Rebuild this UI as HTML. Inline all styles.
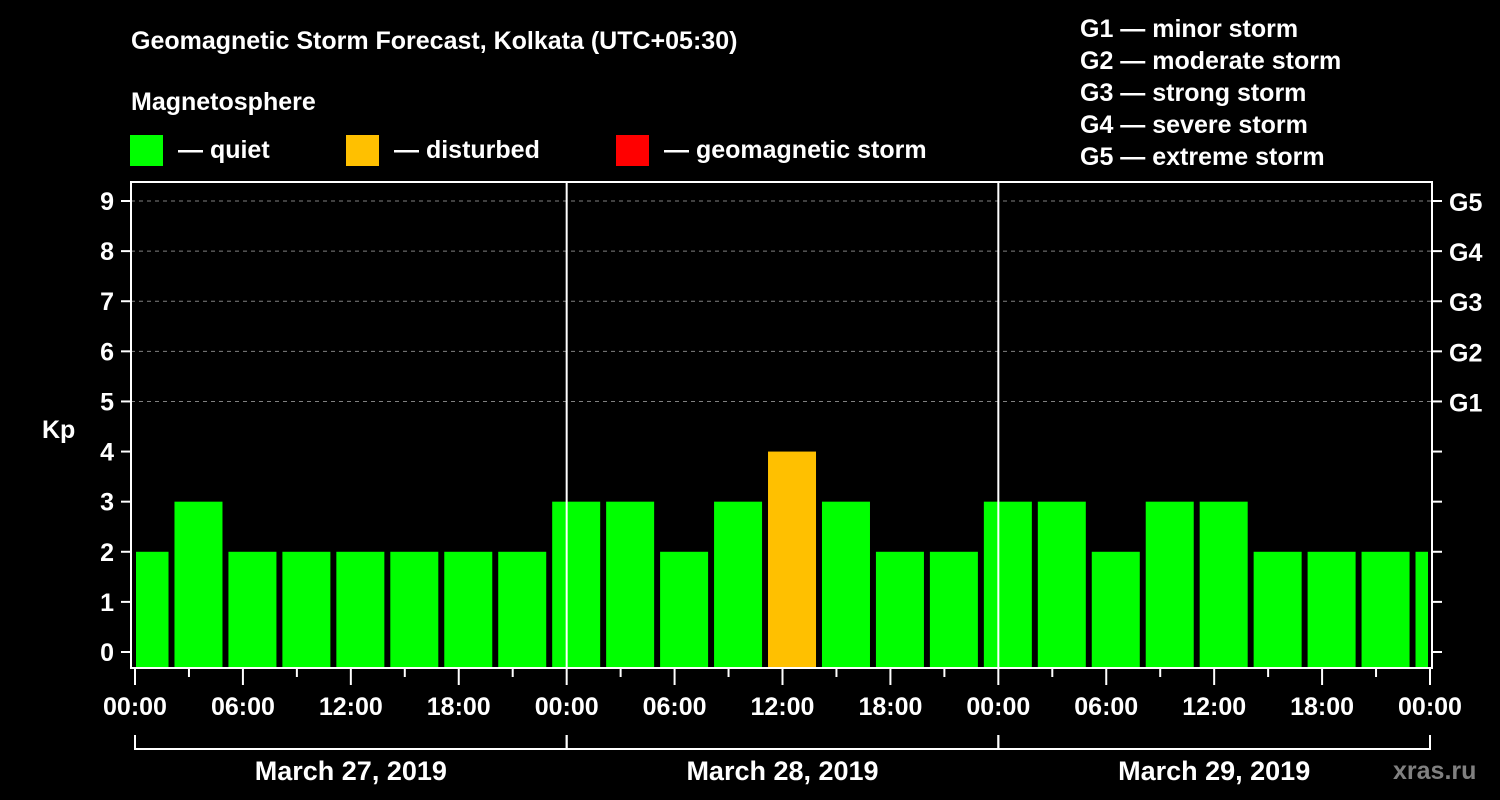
<!DOCTYPE html>
<html><head><meta charset="utf-8"><style>
html,body{margin:0;padding:0;background:#000;width:1500px;height:800px;overflow:hidden}
svg{display:block;font-family:"Liberation Sans",sans-serif;font-weight:bold}
</style></head><body>
<svg id="chart" width="1500" height="800" viewBox="0 0 1500 800">
<rect width="1500" height="800" fill="#000"/>
<text x="131" y="49" fill="#fff" font-size="25">Geomagnetic Storm Forecast, Kolkata (UTC+05:30)</text>
<text x="131" y="110" fill="#fff" font-size="25">Magnetosphere</text>
<g><rect x="130" y="135" width="33" height="31" fill="#00ff00"/><text x="178" y="158" fill="#fff" font-size="25">— quiet</text></g>
<g><rect x="346" y="135" width="33" height="31" fill="#ffc000"/><text x="394" y="158" fill="#fff" font-size="25">— disturbed</text></g>
<g><rect x="616" y="135" width="33" height="31" fill="#ff0000"/><text x="664" y="158" fill="#fff" font-size="25">— geomagnetic storm</text></g>
<g fill="#fff" font-size="25">
<text x="1080" y="37">G1 — minor storm</text>
<text x="1080" y="69">G2 — moderate storm</text>
<text x="1080" y="101">G3 — strong storm</text>
<text x="1080" y="133">G4 — severe storm</text>
<text x="1080" y="165">G5 — extreme storm</text>
</g>
<text x="42" y="438" fill="#fff" font-size="25">Kp</text>
<text x="1393" y="779" fill="#808080" font-size="25">xras.ru</text>
<g id="grid"></g><g id="bars"></g><g id="axes"></g>
</svg>
<script>
const kpValues=[2,3,2,2,2,2,2,2,3,3,2,3,4,3,2,2,3,3,2,3,3,2,2,2,2];
const yTicks=[0,1,2,3,4,5,6,7,8,9];
const gLabels=["G1","G2","G3","G4","G5"];
const xTickLabels=["00:00","06:00","12:00","18:00","00:00","06:00","12:00","18:00","00:00","06:00","12:00","18:00","00:00"];
const dayLabels=["March 27, 2019","March 28, 2019","March 29, 2019"];
const NS="http://www.w3.org/2000/svg";
const X0=135,X1=1430,hourPx=(X1-X0)/72,L=131,R=1432,T=182,B=668;
const yS=v=>652-v*50.11;
const xS=h=>X0+h*hourPx;
function mk(p,tag,a){const e=document.createElementNS(NS,tag);for(const k in a)e.setAttribute(k,a[k]);p.appendChild(e);return e;}
const grid=document.getElementById('grid'),bars=document.getElementById('bars'),axes=document.getElementById('axes');
[5,6,7,8,9].forEach(v=>{const l=mk(grid,'line',{x1:L,x2:R,y1:yS(v),y2:yS(v),stroke:'#808080','stroke-width':1,'stroke-dasharray':'4,4'});

});
kpValues.forEach((v,i)=>{
 let x=xS(-0.833+3*i)+0.5, w=48;
 let xl=Math.max(x,L+5), xr=Math.min(x+w,R-4);
 const c=v>=5?'#ff0000':(v>=4?'#ffc000':'#00ff00');
 const r=mk(bars,'rect',{x:xl,y:yS(v),width:xr-xl,height:B-yS(v),fill:c});
 
 
});
[1,2].forEach(d=>{const l=mk(axes,'line',{x1:xS(24*d),x2:xS(24*d),y1:T,y2:B,stroke:'#fff','stroke-width':2});

});
const fr=mk(axes,'rect',{x:L,y:T,width:R-L,height:B-T,fill:'none',stroke:'#fff','stroke-width':2});


yTicks.forEach(v=>{
 mk(axes,'line',{x1:121,x2:L,y1:yS(v),y2:yS(v),stroke:'#fff','stroke-width':2});
 mk(axes,'line',{x1:R,x2:1442,y1:yS(v),y2:yS(v),stroke:'#fff','stroke-width':2});
 const t=mk(axes,'text',{x:114,y:yS(v)+9,fill:'#fff','font-size':25,'text-anchor':'end'});t.textContent=v;
 
 
});
gLabels.forEach((g,i)=>{const t=mk(axes,'text',{x:1449,y:yS(5+i)+10,fill:'#fff','font-size':25});t.textContent=g;
 
 });
for(let h=0;h<=72;h+=3){const maj=h%6===0;mk(axes,'line',{x1:xS(h),x2:xS(h),y1:B,y2:maj?685:677,stroke:'#fff','stroke-width':2});}
xTickLabels.forEach((s,i)=>{const t=mk(axes,'text',{x:xS(6*i),y:715,fill:'#fff','font-size':25,'text-anchor':'middle'});t.textContent=s;
 
 });
dayLabels.forEach((s,i)=>{
 const a=xS(24*i),b=xS(24*(i+1));
 mk(axes,'path',{d:`M${a},735V749H${b}V735`,fill:'none',stroke:'#fff','stroke-width':2});
 const t=mk(axes,'text',{x:(a+b)/2,y:780,fill:'#fff','font-size':27,'text-anchor':'middle'});t.textContent=s;
 
 
});
</script>
</body></html>
